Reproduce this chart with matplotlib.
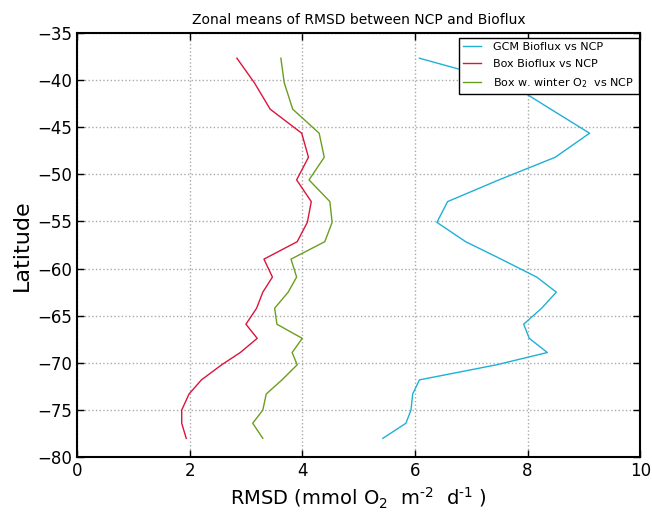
import matplotlib
matplotlib.use("Agg")
import matplotlib.pyplot as plt

## zonal latitudes (deg) and RMSD values
lat = [-37.7, -40.3, -43.1, -45.65, -48.2, -50.6, -52.9, -55.1, -57.15, -59.0, -60.9,
       -62.5, -64.2, -65.9, -67.4, -68.9, -70.2, -71.8, -73.3, -75.0, -76.4, -78.0]

gcm_bioflux = [6.08, 7.66, 8.41, 9.10, 8.49, 7.49, 6.58, 6.39, 6.90, 7.53, 8.16,
               8.51, 8.25, 7.93, 8.03, 8.35, 7.45, 6.08, 5.96, 5.93, 5.84, 5.43]
box_bioflux = [2.84, 3.15, 3.43, 3.99, 4.11, 3.90, 4.16, 4.09, 3.91, 3.32, 3.47,
               3.30, 3.19, 3.00, 3.20, 2.90, 2.57, 2.21, 1.99, 1.86, 1.86, 1.94]
box_winter = [3.62, 3.68, 3.83, 4.30, 4.39, 4.12, 4.49, 4.53, 4.40, 3.80, 3.90,
              3.75, 3.51, 3.55, 4.00, 3.82, 3.91, 3.64, 3.36, 3.30, 3.12, 3.30]

fig = plt.figure(figsize=(6.52, 5.12), dpi=100)
ax = fig.add_axes([0.118, 0.107, 0.864, 0.829])

ax.plot(gcm_bioflux, lat, color='#1fb0d6', lw=1, label='GCM Bioflux vs NCP')
ax.plot(box_bioflux, lat, color='#dc143c', lw=1, label='Box Bioflux vs NCP')
ax.plot(box_winter, lat, color='#6b9e1f', lw=1, label='Box w. winter O$_2$  vs NCP')

ax.set_xlim(0, 10)
ax.set_ylim(-80, -35)
ax.set_xticks(range(0, 11, 2))
ax.set_yticks(range(-80, -34, 5))
ax.grid(True, color='#aaaaaa', linestyle=':', linewidth=1)
ax.tick_params(direction='in', top=True, right=True, labelsize=12, length=5, width=1)
for s in ax.spines.values():
    s.set_linewidth(1.5)

ax.set_xlabel(r'RMSD (mmol O$_2$  m$^{\text{-2}}$  d$^{\text{-1}}$ )', fontsize=14)
ax.set_ylabel('Latitude', fontsize=16)
ax.set_title('Zonal means of RMSD between NCP and Bioflux', fontsize=10)

leg = ax.legend(loc='upper right', bbox_to_anchor=(0.997, 0.988), borderaxespad=0,
                fontsize=8, fancybox=False, handlelength=1.6, handletextpad=1.1,
                labelspacing=0.62, framealpha=1)
leg.get_frame().set_edgecolor('black')
leg.get_frame().set_linewidth(1)

fig.savefig('out.png', dpi=100)
